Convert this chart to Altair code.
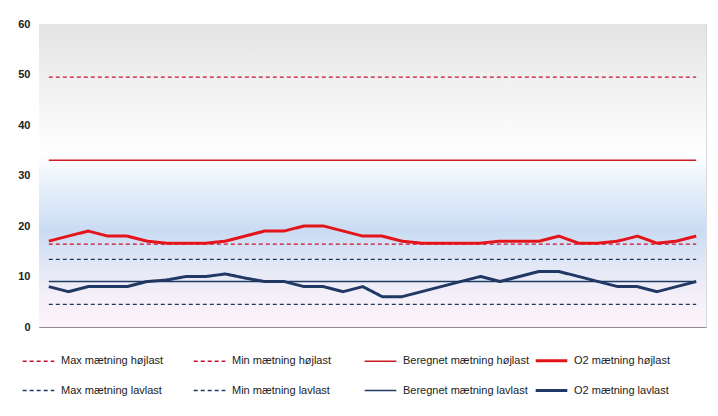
import altair as alt
import pandas as pd

# ---- data ----
series_names = [
    "Max mætning højlast", "Min mætning højlast", "Beregnet mætning højlast", "O2 mætning højlast",
    "Max mætning lavlast", "Min mætning lavlast", "Beregnet mætning lavlast", "O2 mætning lavlast",
]
n_points = 34
max_hoej = 49.5
min_hoej = 16.4
beregnet_hoej = 33.0
max_lav = 13.4
min_lav = 4.5
beregnet_lav = 9.0
o2_hoej = [17, 18, 19, 18, 18, 17, 16.6, 16.6, 16.6, 17, 18, 19, 19, 20, 20, 19, 18,
           18, 17, 16.6, 16.6, 16.6, 16.6, 17, 17, 17, 18, 16.6, 16.6, 17, 18, 16.6, 17, 18]
o2_lav = [8, 7, 8, 8, 8, 9, 9.3, 10, 10, 10.5, 9.7, 9, 9, 8, 8, 7, 8,
          6, 6, 7, 8, 9, 10, 9, 10, 11, 11, 10, 9, 8, 8, 7, 8, 9]

colors = ["#c8102e", "#c8102e", "#cc1b24", "#e4141b",
          "#1f3a60", "#1f3a60", "#1f3a60", "#203864"]
dashes = [[4, 3], [4, 3], [1, 0], [1, 0], [4, 3], [4, 3], [1, 0], [1, 0]]
widths = [1.2, 1.2, 1.5, 3, 1.2, 1.2, 1.5, 3]

series_values = [
    [max_hoej] * n_points, [min_hoej] * n_points, [beregnet_hoej] * n_points, o2_hoej,
    [max_lav] * n_points, [min_lav] * n_points, [beregnet_lav] * n_points, o2_lav,
]

rows = []
for name, vals, w in zip(series_names, series_values, widths):
    for i, v in enumerate(vals):
        rows.append({"idx": i, "value": v, "series": name, "w": w})
df = pd.DataFrame(rows)

W, H = 667, 303

grad = alt.Gradient(
    gradient="linear", x1=0, x2=0, y1=0, y2=1,
    stops=[
        alt.GradientStop(color="#e3e3e3", offset=0.0),
        alt.GradientStop(color="#eeeeee", offset=0.15),
        alt.GradientStop(color="#f9f9f9", offset=0.33),
        alt.GradientStop(color="#ffffff", offset=0.43),
        alt.GradientStop(color="#eef4fc", offset=0.5),
        alt.GradientStop(color="#d6e5f7", offset=0.62),
        alt.GradientStop(color="#c9dcf3", offset=0.68),
        alt.GradientStop(color="#e3e8f6", offset=0.8),
        alt.GradientStop(color="#f5eff8", offset=0.9),
        alt.GradientStop(color="#fcf4fa", offset=1.0),
    ],
)

bg = alt.Chart(pd.DataFrame({"a": [0]})).mark_rect(fill=grad).encode(
    x=alt.value(0), x2=alt.value(W), y=alt.value(0), y2=alt.value(H)
)

legend_width_expr = "(datum && isString(datum.value) && indexof(datum.value, 'O2') == 0 ? 3 : 1.3)"


def make_legend():
    return alt.Legend(
        title=None, orient="none", legendX=-17, legendY=320, columns=4, direction="horizontal",
        symbolType="stroke", symbolSize=1000, gridAlign="all",
        columnPadding=0, rowPadding=7, labelOffset=6,
        labelFont="Liberation Sans", labelFontSize=11, labelColor="#222222",
        labelLimit=300, symbolStrokeWidth=alt.ExprRef(expr=legend_width_expr),
    )


lines = alt.Chart(df).mark_line(strokeJoin="round").encode(
    x=alt.X("idx:Q", scale=alt.Scale(domain=[-0.5, n_points - 0.5], nice=False, zero=False),
            axis=alt.Axis(labels=False, ticks=False, grid=False, title=None,
                          domainColor="#8c8c8c", domainWidth=1)),
    y=alt.Y("value:Q", scale=alt.Scale(domain=[0, 60], nice=False),
            axis=alt.Axis(values=[0, 10, 20, 30, 40, 50, 60], grid=False, ticks=False,
                          title=None, domainColor="#8c8c8c", domainWidth=1,
                          labelFont="Liberation Sans", labelFontSize=11, labelFontWeight="bold",
                          labelColor="#222222", labelPadding=9)),
    color=alt.Color("series:N", scale=alt.Scale(domain=series_names, range=colors),
                    legend=make_legend()),
    strokeDash=alt.StrokeDash("series:N", scale=alt.Scale(domain=series_names, range=dashes),
                              legend=make_legend()),
    strokeWidth=alt.StrokeWidth("w:Q", scale=None, legend=None),
    order=alt.Order("idx:Q"),
)

chart = alt.layer(bg, lines).properties(
    width=W, height=H,
    autosize=alt.AutoSizeParams(type="none"),
    padding={"left": 31, "top": 16, "right": 4, "bottom": 81},
).configure_view(stroke="transparent").configure(background="white")

chart.save("out.html", embed_options={"renderer": "svg", "actions": False})
